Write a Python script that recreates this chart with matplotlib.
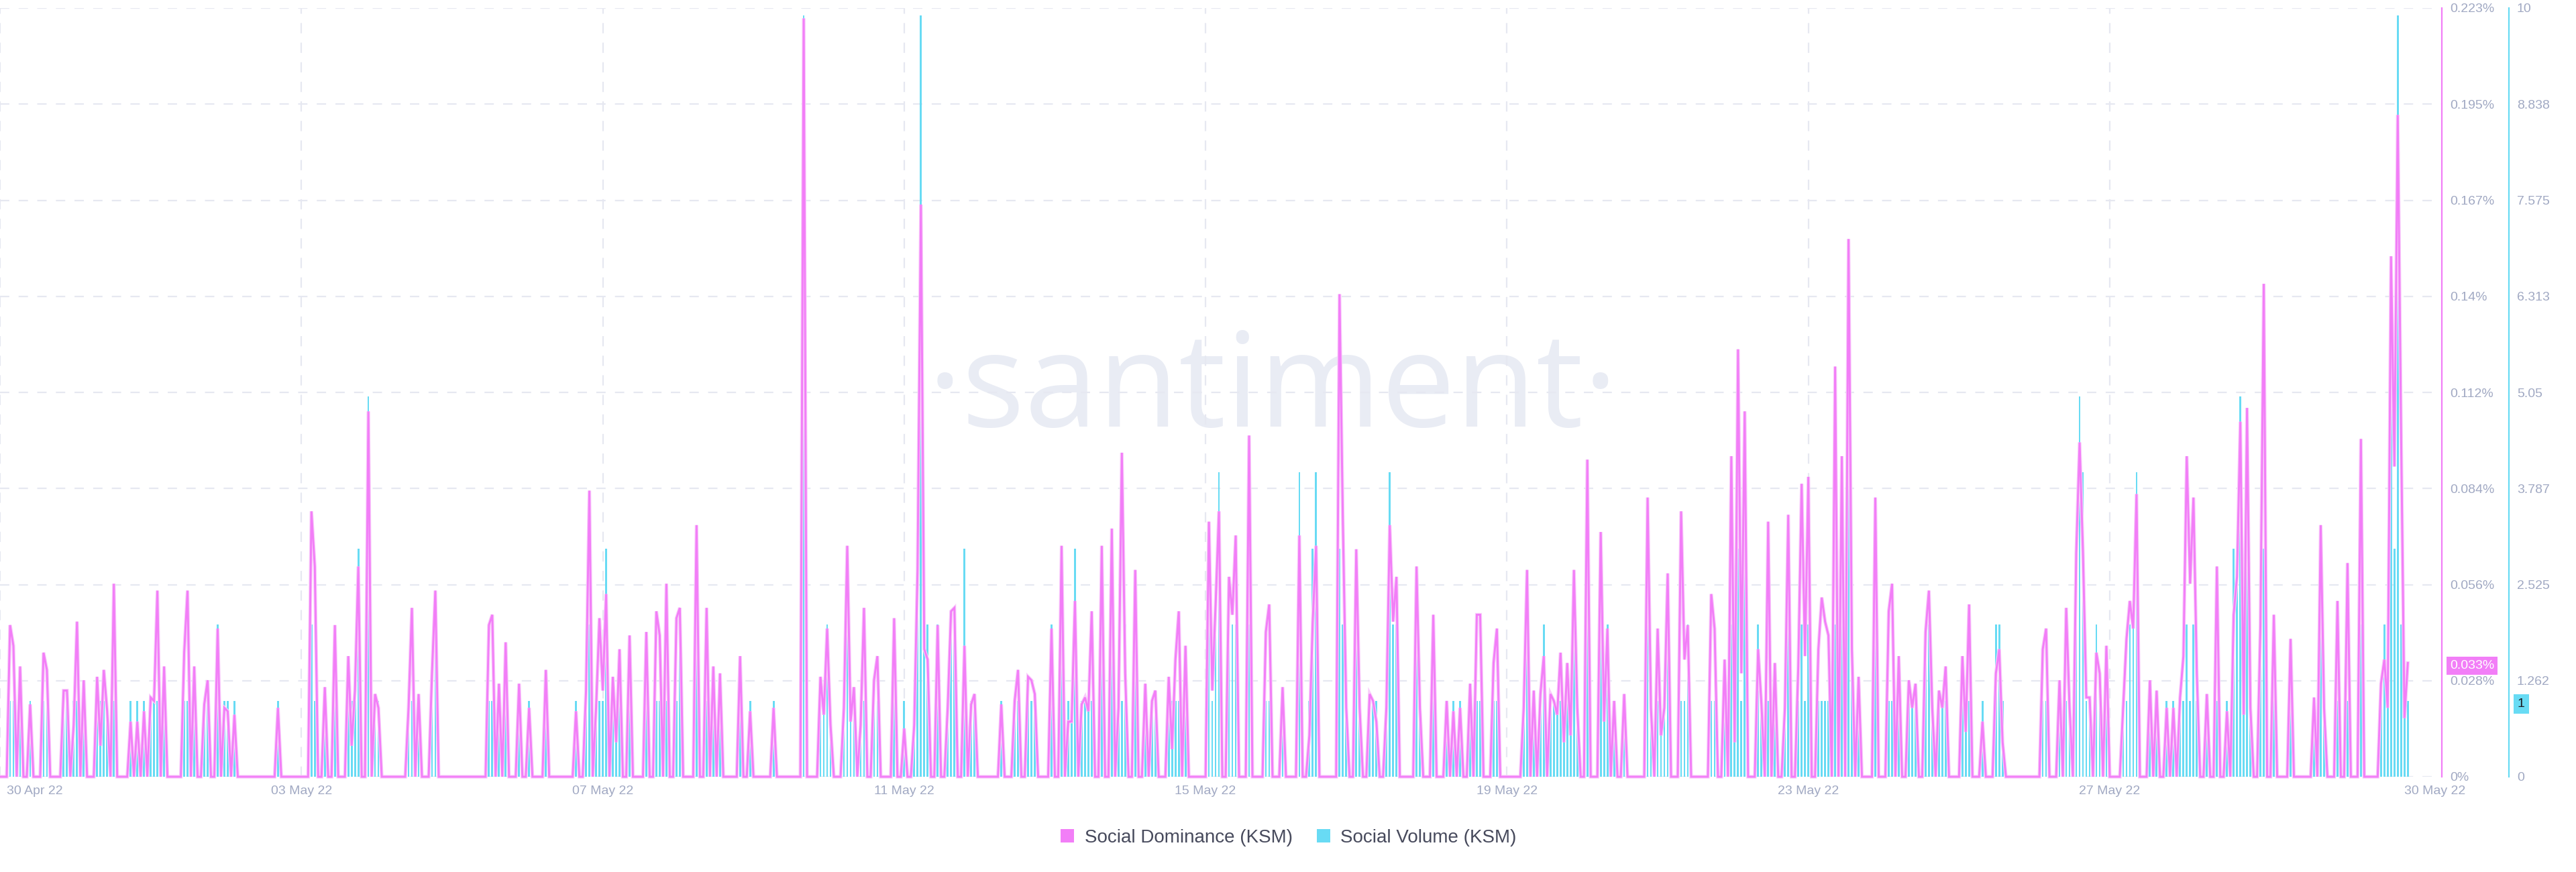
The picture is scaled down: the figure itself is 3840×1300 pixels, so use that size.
import numpy as np
import matplotlib
matplotlib.use("Agg")
import matplotlib.pyplot as plt
import matplotlib.transforms as mtransforms
from matplotlib.patches import Patch

plt.rcParams["lines.scale_dashes"] = False
plt.rcParams["font.family"] = ["Liberation Sans", "DejaVu Sans"]

# ---------------- data (hourly, 30 Apr 22 -> 30 May 22) ----------------
# Social Dominance (KSM), in percent, one row per 24 hours
dominance_pct = [
    0, 0, 0, .044, .038, 0, .032, 0, 0, .021, 0, 0, 0, .036, .031, 0, 0, 0, 0, .025, .025, 0, .015, .045,
    0, .028, 0, 0, 0, .029, .009, .031, .019, 0, .056, 0, 0, 0, 0, .016, 0, .016, 0, .019, 0, .023, .022, .054,
    0, .032, 0, 0, 0, 0, 0, .036, .054, 0, .032, 0, 0, .021, .028, 0, 0, .043, 0, .020, .019, 0, .018, 0,
    0, 0, 0, 0, 0, 0, 0, 0, 0, 0, 0, .020, 0, 0, 0, 0, 0, 0, 0, 0, 0, .077, .061, 0,
    0, .026, 0, 0, .044, 0, 0, 0, .035, .009, .025, .061, 0, 0, .106, 0, .024, .020, 0, 0, 0, 0, 0, 0,
    0, 0, .020, .049, 0, .024, 0, 0, 0, .030, .054, 0, 0, 0, 0, 0, 0, 0, 0, 0, 0, 0, 0, 0,
    0, 0, .044, .047, 0, .027, 0, .039, 0, 0, 0, .027, 0, 0, .020, 0, 0, 0, 0, .031, 0, 0, 0, 0,
    0, 0, 0, 0, .019, 0, 0, .025, .083, 0, .020, .046, .025, .053, 0, .029, .010, .037, 0, 0, .041, 0, 0, 0,
    0, .042, 0, 0, .048, .041, 0, .056, 0, 0, .046, .049, 0, 0, 0, 0, .073, 0, 0, .049, 0, .032, 0, .030,
    0, 0, 0, 0, 0, .035, 0, 0, .019, 0, 0, 0, 0, 0, 0, .020, 0, 0, 0, 0, 0, 0, 0, 0,
    .220, 0, 0, 0, 0, .029, .018, .043, .015, 0, 0, 0, .020, .067, .016, .026, 0, .015, .049, 0, 0, .028, .035, 0,
    0, 0, 0, .046, 0, 0, .014, 0, 0, .015, .060, .166, .037, .034, 0, 0, .044, 0, 0, .020, .048, .049, 0, 0,
    .038, 0, .021, .024, 0, 0, 0, 0, 0, 0, 0, .021, 0, 0, 0, .022, .031, 0, 0, .029, .028, .024, 0, 0,
    0, 0, .043, 0, 0, .067, 0, .016, .016, .051, 0, .021, .023, .019, .048, 0, 0, .067, 0, 0, .072, 0, .020, .094,
    .030, 0, 0, .060, 0, 0, .027, 0, .022, .025, 0, 0, 0, .029, .008, .034, .048, 0, .038, 0, 0, 0, 0, 0,
    0, .074, .025, .050, .077, 0, 0, .058, .047, .070, 0, 0, 0, .099, 0, 0, 0, 0, .042, .050, 0, 0, 0, .026,
    0, 0, 0, 0, .070, 0, 0, .012, .045, .067, 0, 0, 0, 0, 0, 0, .140, .074, .020, 0, 0, .066, .020, 0,
    0, .024, .022, .016, 0, 0, .020, .073, .045, .058, 0, 0, 0, 0, 0, .061, .020, 0, 0, 0, .047, 0, 0, 0,
    .022, 0, .019, 0, .020, 0, 0, .027, 0, .047, .047, 0, 0, 0, .033, .043, 0, 0, 0, 0, 0, 0, 0, .020,
    .060, 0, .025, 0, .024, .035, 0, .024, .022, .018, .036, .010, .033, .012, .060, .020, 0, 0, .092, 0, 0, 0, .071, .016,
    .043, 0, .022, 0, 0, .024, 0, 0, 0, 0, 0, 0, .081, .020, 0, .043, .012, .020, .059, 0, 0, 0, .077, .034,
    .044, 0, 0, 0, 0, 0, 0, .053, .043, 0, 0, .034, 0, .093, .010, .124, .030, .106, 0, 0, 0, .037, .021, 0,
    .074, 0, .033, 0, 0, .020, .076, 0, 0, .032, .085, .035, .087, 0, 0, .037, .052, .045, .041, 0, .119, 0, .093, 0,
    .156, .037, 0, .029, 0, 0, 0, 0, .081, 0, 0, 0, .048, .056, 0, .035, 0, 0, .028, .020, .027, 0, 0, .042,
    .054, .020, 0, .025, .020, .032, 0, 0, 0, 0, .035, .013, .050, 0, 0, 0, .016, 0, 0, 0, .030, .037, .010, 0,
    0, 0, 0, 0, 0, 0, 0, 0, 0, 0, .037, .043, 0, 0, 0, .028, 0, .049, .020, 0, .065, .097, .065, .023,
    .023, 0, .036, .030, 0, .038, 0, 0, 0, 0, .020, .040, .051, .043, .082, 0, 0, 0, .028, 0, .025, 0, 0, .020,
    0, .020, 0, .023, .035, .093, .056, .081, .030, 0, 0, .024, 0, 0, .061, 0, 0, .019, 0, .047, .058, .103, .018, .107,
    .020, 0, 0, .044, .143, 0, 0, .047, 0, 0, 0, 0, .040, 0, 0, 0, 0, 0, 0, .023, 0, .073, .020, 0,
    0, 0, .051, 0, 0, .062, 0, 0, 0, .098, 0, 0, 0, 0, 0, .027, .034, .020, .151, .090, .192, .100, .017, .033,
]

# Social Volume (KSM), mentions per hour, one row per 24 hours
social_volume = [
    0, 0, 0, 1, 1, 0, 1, 0, 0, 1, 0, 0, 0, 1, 1, 0, 0, 0, 0, 1, 1, 0, 1, 1,
    0, 1, 0, 0, 0, 1, 1, 1, 1, 0, 1, 0, 0, 0, 0, 1, 0, 1, 0, 1, 0, 1, 1, 1,
    0, 1, 0, 0, 0, 0, 0, 1, 1, 0, 1, 0, 0, 1, 1, 0, 0, 2, 0, 1, 1, 0, 1, 0,
    0, 0, 0, 0, 0, 0, 0, 0, 0, 0, 0, 1, 0, 0, 0, 0, 0, 0, 0, 0, 0, 2, 1, 0,
    0, 1, 0, 0, 1, 0, 0, 0, 1, 1, 1, 3, 0, 0, 5, 0, 1, 1, 0, 0, 0, 0, 0, 0,
    0, 0, 1, 1, 0, 1, 0, 0, 0, 1, 2, 0, 0, 0, 0, 0, 0, 0, 0, 0, 0, 0, 0, 0,
    0, 0, 1, 1, 0, 1, 0, 1, 0, 0, 0, 1, 0, 0, 1, 0, 0, 0, 0, 1, 0, 0, 0, 0,
    0, 0, 0, 0, 1, 0, 0, 1, 2, 0, 1, 1, 1, 3, 0, 1, 1, 1, 0, 0, 1, 0, 0, 0,
    0, 1, 0, 0, 1, 1, 0, 1, 0, 0, 1, 2, 0, 0, 0, 0, 2, 0, 0, 1, 0, 1, 0, 1,
    0, 0, 0, 0, 0, 1, 0, 0, 1, 0, 0, 0, 0, 0, 0, 1, 0, 0, 0, 0, 0, 0, 0, 0,
    10, 0, 0, 0, 0, 1, 1, 2, 1, 0, 0, 0, 1, 2, 1, 1, 0, 1, 1, 0, 0, 1, 1, 0,
    0, 0, 0, 1, 0, 0, 1, 0, 0, 1, 3, 10, 2, 2, 0, 0, 2, 0, 0, 1, 2, 2, 0, 0,
    3, 0, 1, 1, 0, 0, 0, 0, 0, 0, 0, 1, 0, 0, 0, 1, 1, 0, 0, 1, 1, 1, 0, 0,
    0, 0, 2, 0, 0, 2, 0, 1, 1, 3, 0, 1, 1, 1, 1, 0, 0, 2, 0, 0, 2, 0, 1, 1,
    2, 0, 0, 2, 0, 0, 1, 0, 1, 1, 0, 0, 0, 1, 1, 1, 1, 0, 1, 0, 0, 0, 0, 0,
    0, 2, 1, 2, 4, 0, 0, 2, 2, 2, 0, 0, 0, 2, 0, 0, 0, 0, 1, 1, 0, 0, 0, 1,
    0, 0, 0, 0, 4, 0, 0, 1, 3, 4, 0, 0, 0, 0, 0, 0, 3, 2, 1, 0, 0, 2, 1, 0,
    0, 1, 1, 1, 0, 0, 1, 4, 2, 2, 0, 0, 0, 0, 0, 2, 1, 0, 0, 0, 1, 0, 0, 0,
    1, 0, 1, 0, 1, 0, 0, 1, 0, 1, 1, 0, 0, 0, 1, 1, 0, 0, 0, 0, 0, 0, 0, 1,
    2, 0, 1, 0, 1, 2, 0, 1, 1, 1, 1, 1, 1, 1, 2, 1, 0, 0, 2, 0, 0, 0, 2, 1,
    2, 0, 1, 0, 0, 1, 0, 0, 0, 0, 0, 0, 2, 1, 0, 1, 1, 1, 2, 0, 0, 0, 1, 1,
    2, 0, 0, 0, 0, 0, 0, 1, 1, 0, 0, 1, 0, 2, 1, 3, 1, 3, 0, 0, 0, 2, 1, 0,
    1, 0, 1, 0, 0, 1, 2, 0, 0, 1, 2, 1, 2, 0, 0, 1, 1, 1, 1, 0, 2, 0, 2, 0,
    5, 2, 0, 1, 0, 0, 0, 0, 2, 0, 0, 0, 1, 1, 0, 1, 0, 0, 1, 1, 1, 0, 0, 2,
    2, 1, 0, 1, 1, 1, 0, 0, 0, 0, 1, 1, 1, 0, 0, 0, 1, 0, 0, 0, 2, 2, 1, 0,
    0, 0, 0, 0, 0, 0, 0, 0, 0, 0, 1, 1, 0, 0, 0, 1, 0, 1, 1, 0, 3, 5, 4, 1,
    1, 0, 2, 1, 0, 1, 0, 0, 0, 0, 1, 1, 2, 2, 4, 0, 0, 0, 1, 0, 1, 0, 0, 1,
    0, 1, 0, 1, 1, 2, 1, 2, 1, 0, 0, 1, 0, 0, 1, 0, 0, 1, 0, 3, 3, 5, 1, 3,
    1, 0, 0, 2, 3, 0, 0, 1, 0, 0, 0, 0, 1, 0, 0, 0, 0, 0, 0, 1, 0, 2, 1, 0,
    0, 0, 1, 0, 0, 1, 0, 0, 0, 2, 0, 0, 0, 0, 0, 1, 2, 1, 5, 3, 10, 2, 1, 1,
]

x_tick_hours = [0, 90, 180, 270, 360, 450, 540, 630, 719]
x_tick_labels = ["30 Apr 22", "03 May 22", "07 May 22", "11 May 22", "15 May 22",
                 "19 May 22", "23 May 22", "27 May 22", "30 May 22"]
dominance_tick_labels = ["0%", "0.028%", "0.056%", "0.084%", "0.112%", "0.14%",
                         "0.167%", "0.195%", "0.223%"]
volume_tick_labels = ["0", "1.262", "2.525", "3.787", "5.05", "6.313", "7.575", "8.838", "10"]
dominance_max = 0.223
volume_max = 10.1
series_names = ["Social Dominance (KSM)", "Social Volume (KSM)"]

# ---------------- styling ----------------
MAGENTA = "#f27ef7"
CYAN = "#68dbf4"
GRID = "#e6e8f1"
TICK = "#a1a9c3"
WATERMARK = "#e9ecf4"

W, H, DPI = 3840, 1300, 100
fig = plt.figure(figsize=(W / DPI, H / DPI), dpi=DPI)
fig.patch.set_facecolor("white")

LEFT_PX, RIGHT_PX, TOP_PX, BOTTOM_PX = 0, 3640, 12, 1158
ax = fig.add_axes([LEFT_PX / W, 1 - BOTTOM_PX / H,
                   (RIGHT_PX - LEFT_PX) / W, (BOTTOM_PX - TOP_PX) / H])
ax2 = ax.twinx()

hours = np.arange(len(dominance_pct))
px_per_hour = 4.992
ax.set_xlim(0, (RIGHT_PX - LEFT_PX) / px_per_hour)

# watermark
renderer = fig.canvas.get_renderer()
wm = ax.text(1897 / W, 1 - 636 / H, "\u00b7santiment\u00b7", transform=fig.transFigure,
             ha="center", va="baseline", fontsize=100, family=["Open Sans", "DejaVu Sans"],
             color=WATERMARK, zorder=0.2)
w_now = wm.get_window_extent(renderer).width
wm.set_fontsize(100 * 1030 / w_now)

# volume bars (bottom axes)
ax.bar(hours, social_volume, width=0.55, color=CYAN, linewidth=0, zorder=2)
ax.set_ylim(0, volume_max)
ax.set_yticks(np.linspace(0, volume_max, len(volume_tick_labels)))
ax.set_yticklabels(volume_tick_labels)
ax.yaxis.tick_right()
ax.spines["right"].set_position(("axes", (3740 - LEFT_PX) / (RIGHT_PX - LEFT_PX)))
ax.spines["right"].set_color(CYAN)
ax.spines["right"].set_linewidth(1.6)
for s in ("left", "top", "bottom"):
    ax.spines[s].set_visible(False)
ax.tick_params(axis="y", length=0, pad=8.6, labelsize=14, labelcolor=TICK)

# grid
ax.set_axisbelow(True)
ax.set_xticks(x_tick_hours[:-1], minor=True)
ax.set_xticks([])
ax.tick_params(axis="x", which="both", length=0, labelbottom=False)
ax.grid(True, which="minor", axis="x", color=GRID, lw=1.6, linestyle=(0, (11, 10)))
ax.grid(True, which="major", axis="y", color=GRID, lw=1.6, linestyle=(0, (10, 10)))

# dominance line (top axes)
ax2.plot(hours, dominance_pct, color="#f9cdfb", lw=3.8, zorder=2, clip_on=False,
         solid_joinstyle="miter")
ax2.plot(hours, dominance_pct, color=MAGENTA, lw=2.1, zorder=3, clip_on=False,
         solid_joinstyle="miter")
ax2.set_ylim(0, dominance_max)
ax2.set_yticks(np.linspace(0, dominance_max, len(dominance_tick_labels)))
ax2.set_yticklabels(dominance_tick_labels)
ax2.spines["right"].set_color(MAGENTA)
ax2.spines["right"].set_linewidth(1.6)
for s in ("left", "top", "bottom"):
    ax2.spines[s].set_visible(False)
ax2.tick_params(axis="y", length=0, pad=8.6, labelsize=14, labelcolor=TICK)

# x labels
blend_x = mtransforms.blended_transform_factory(ax.transData, ax.transAxes)
for h, lab in zip(x_tick_hours, x_tick_labels):
    if h == x_tick_hours[0]:
        ha, dx = "left", 10
    elif h == x_tick_hours[-1]:
        ha, dx = "left", -5
    else:
        ha, dx = "center", 0
    tr = mtransforms.offset_copy(blend_x, fig=fig, x=dx, y=-22, units="dots")
    ax.text(h, 0, lab, transform=tr, ha=ha, va="center", fontsize=14, color=TICK)

# current value badges
last_dom = dominance_pct[-1]
last_vol = social_volume[-1]
bl2 = mtransforms.blended_transform_factory(ax2.transAxes, ax2.transData)
ax2.text(1.0, last_dom, f"{last_dom:.3f}%",
         transform=mtransforms.offset_copy(bl2, fig=fig, x=12, y=-4, units="dots"),
         ha="left", va="center", fontsize=14, color="white", zorder=10, clip_on=False,
         bbox=dict(boxstyle="square,pad=0.25", fc=MAGENTA, ec="none"))
bl1 = mtransforms.blended_transform_factory(ax.transAxes, ax.transData)
ax.text((3740 - LEFT_PX) / (RIGHT_PX - LEFT_PX), last_vol, f"{last_vol:g}",
        transform=mtransforms.offset_copy(bl1, fig=fig, x=13, y=-5, units="dots"),
        ha="left", va="center", fontsize=14, color="#1a1a22", zorder=10, clip_on=False,
        bbox=dict(boxstyle="square,pad=0.3", fc=CYAN, ec="none"))

# legend
handles = [Patch(facecolor=MAGENTA, edgecolor="none", label=series_names[0]),
           Patch(facecolor=CYAN, edgecolor="none", label=series_names[1])]
fig.legend(handles=handles, loc="center", bbox_to_anchor=(1921 / W, 1 - 1249 / H),
           ncol=2, frameon=False, fontsize=20, handlelength=0.72, handleheight=0.72,
           handletextpad=0.55, columnspacing=1.3, labelcolor="#474a5c")

fig.savefig("out.png", dpi=DPI, facecolor="white")
